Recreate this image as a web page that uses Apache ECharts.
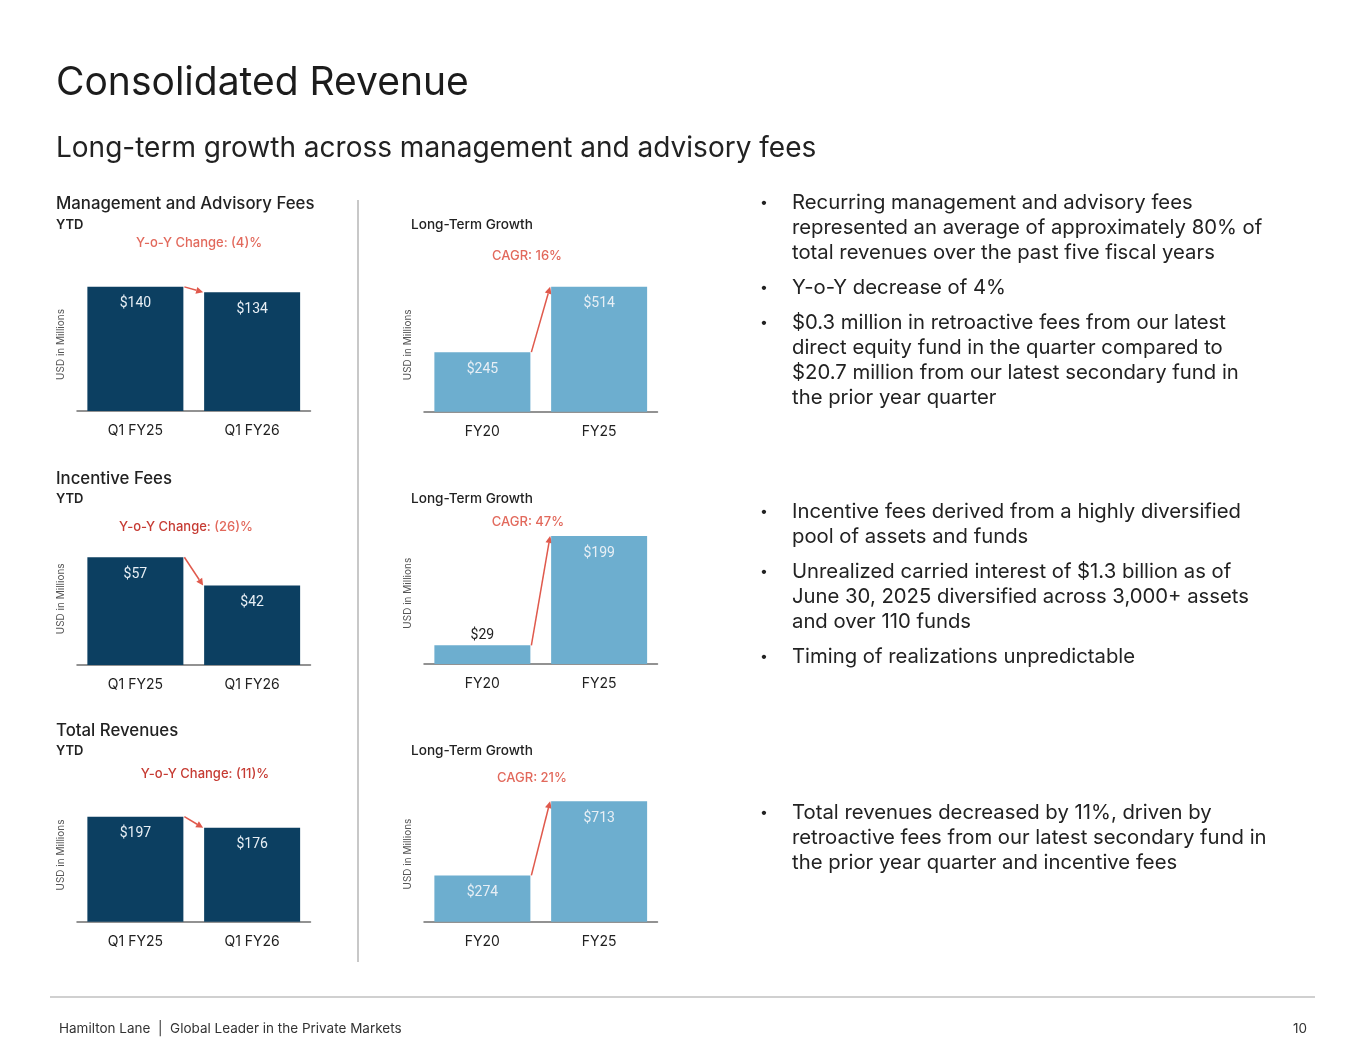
<!DOCTYPE html>
<html>
<head>
<meta charset="utf-8">
<script src="https://cdn.jsdelivr.net/npm/echarts@6/dist/echarts.min.js"></script>
<style>
  html,body{margin:0;padding:0;background:#fff;}
  #wrap{position:relative;width:1365px;height:1055px;overflow:hidden;font-family:Inter,Roboto,"Noto Sans",sans-serif;color:#222;}
  #chart{position:absolute;left:0;top:0;width:1365px;height:1055px;}
  .t{position:absolute;white-space:nowrap;}
  .c{transform:translateX(-50%);}
  .bul{position:absolute;left:760px;font-size:20.3px;line-height:25px;color:#222;}
  .bul .p{position:relative;padding-left:32px;white-space:nowrap;}
  .bul .p:before{content:"\2022";position:absolute;left:0;top:0;font-size:14px;}
  .red{color:#E2695C;}
  .dred{color:#C63B33;}
  .h{font-size:16.8px;line-height:20px;font-weight:500;}
  .lt{font-size:13.6px;line-height:16px;font-weight:500;}
</style>
</head>
<body>
<div id="wrap">
  <div id="chart"></div>

  <div class="t" style="left:56px;top:57px;font-size:39px;line-height:48px;color:#1c1c1c;">Consolidated Revenue</div>
  <div class="t" style="left:56px;top:129px;font-size:28px;line-height:36px;color:#222;">Long-term growth across management and advisory fees</div>

  <div class="t h" style="left:56px;top:193px;">Management and Advisory Fees</div>
  <div class="t" style="left:56px;top:216px;font-size:13px;line-height:16px;font-weight:600;">YTD</div>
  <div class="t c red" style="left:199px;top:234px;font-size:13px;line-height:16px;font-weight:500;">Y-o-Y Change: (4)%</div>
  <div class="t lt" style="left:411px;top:216px;">Long-Term Growth</div>
  <div class="t c red" style="left:527px;top:247px;font-size:13px;line-height:16px;font-weight:500;">CAGR: 16%</div>

  <div class="t h" style="left:56px;top:468px;">Incentive Fees</div>
  <div class="t" style="left:56px;top:490px;font-size:13px;line-height:16px;font-weight:600;">YTD</div>
  <div class="t c" style="left:186px;top:518px;font-size:13px;line-height:16px;font-weight:500;"><span class="dred">Y-o-Y Change:</span> <span class="red">(26)%</span></div>
  <div class="t lt" style="left:411px;top:490px;">Long-Term Growth</div>
  <div class="t c red" style="left:528px;top:513px;font-size:13px;line-height:16px;font-weight:500;">CAGR: 47%</div>

  <div class="t h" style="left:56px;top:720px;">Total Revenues</div>
  <div class="t" style="left:56px;top:742px;font-size:13px;line-height:16px;font-weight:600;">YTD</div>
  <div class="t c dred" style="left:205px;top:765px;font-size:13px;line-height:16px;font-weight:500;">Y-o-Y Change: (11)%</div>
  <div class="t lt" style="left:411px;top:742px;">Long-Term Growth</div>
  <div class="t c red" style="left:532px;top:769px;font-size:13px;line-height:16px;font-weight:500;">CAGR: 21%</div>

  <div style="position:absolute;left:357px;top:200px;width:2px;height:762px;background:#c8c8c8;"></div>

  <div class="bul" style="top:189px;">
    <div class="p">Recurring management and advisory fees<br>represented an average of approximately 80% of<br>total revenues over the past five fiscal years</div>
    <div class="p" style="margin-top:10px;">Y-o-Y decrease of 4%</div>
    <div class="p" style="margin-top:10px;">$0.3 million in retroactive fees from our latest<br>direct equity fund in the quarter compared to<br>$20.7 million from our latest secondary fund in<br>the prior year quarter</div>
  </div>
  <div class="bul" style="top:498px;">
    <div class="p">Incentive fees derived from a highly diversified<br>pool of assets and funds</div>
    <div class="p" style="margin-top:10px;">Unrealized carried interest of $1.3 billion as of<br>June 30, 2025 diversified across 3,000+ assets<br>and over 110 funds</div>
    <div class="p" style="margin-top:10px;">Timing of realizations unpredictable</div>
  </div>
  <div class="bul" style="top:799px;">
    <div class="p">Total revenues decreased by 11%, driven by<br>retroactive fees from our latest secondary fund in<br>the prior year quarter and incentive fees</div>
  </div>

  <div style="position:absolute;left:50px;top:996px;width:1265px;height:2px;background:#d0d0d0;"></div>
  <div class="t" style="left:59px;top:1020px;font-size:13.5px;line-height:16px;color:#333;">Hamilton Lane &nbsp;|&nbsp; Global Leader in the Private Markets</div>
  <div class="t" style="right:58px;top:1020px;font-size:13.5px;line-height:16px;color:#333;">10</div>
</div>

<script>
// ---- data ----
const ytdCategories = ['Q1 FY25', 'Q1 FY26'];
const longTermCategories = ['FY20', 'FY25'];
const mgmtYtd = [140, 134];
const mgmtLongTerm = [245, 514];
const incentiveYtd = [57, 42];
const incentiveLongTerm = [29, 199];
const totalYtd = [197, 176];
const totalLongTerm = [274, 713];
const axisMax = [150, 550, 70, 220, 250, 800];

// ---- layout / style ----
const NAVY = '#0C3F61';
const LIGHT = '#6DAECF';
const ARROW = '#E0594C';
const BAR_W = 96;
const FONT = 'Roboto, "Noto Sans", sans-serif';
const FONT2 = 'Inter, Roboto, sans-serif';

const panels = [
  { cats: ytdCategories, vals: mgmtYtd, color: NAVY, left: 77, top: 278, bottom: 411 },
  { cats: longTermCategories, vals: mgmtLongTerm, color: LIGHT, left: 424, top: 278, bottom: 411.7 },
  { cats: ytdCategories, vals: incentiveYtd, color: NAVY, left: 77, top: 532.7, bottom: 665 },
  { cats: longTermCategories, vals: incentiveLongTerm, color: LIGHT, left: 424, top: 522.5, bottom: 664 },
  { cats: ytdCategories, vals: totalYtd, color: NAVY, left: 77, top: 788.4, bottom: 921.7 },
  { cats: longTermCategories, vals: totalLongTerm, color: LIGHT, left: 424, top: 786.5, bottom: 921.7 }
];

const grid = [], xAxis = [], yAxis = [], series = [];
panels.forEach((p, i) => {
  grid.push({ left: p.left, width: 233.5, top: p.top, height: p.bottom - p.top });
  xAxis.push({
    type: 'category', gridIndex: i, data: p.cats,
    axisLine: { lineStyle: { color: '#6f6f6f', width: 1.5 } },
    axisTick: { show: false },
    axisLabel: { fontSize: 14, color: '#222', margin: 13, fontFamily: FONT2 }
  });
  yAxis.push({
    type: 'value', gridIndex: i, min: 0, max: axisMax[i],
    axisLine: { show: false }, axisTick: { show: false },
    axisLabel: { show: false }, splitLine: { show: false },
    name: 'USD in Millions', nameLocation: 'middle', nameGap: 11,
    nameTextStyle: { fontSize: 10, color: '#555', fontFamily: FONT2 }
  });
  series.push({
    type: 'bar', xAxisIndex: i, yAxisIndex: i, barWidth: BAR_W,
    itemStyle: { color: p.color },
    data: p.vals.map(v => {
      const small = v / axisMax[i] < 0.2;
      return {
        value: v,
        label: small
          ? { show: true, position: 'top', distance: 3, color: '#222' }
          : { show: true, position: 'insideTop', distance: 10, color: '#E8EFF5' }
      };
    }),
    label: { show: true, fontSize: 14, fontFamily: FONT, formatter: d => '$' + d.value }
  });
  series.push({
    type: 'custom', xAxisIndex: i, yAxisIndex: i, silent: true, clip: false,
    data: [[0, p.vals[0], p.vals[1]]],
    encode: { x: 0, y: [1, 2] },
    renderItem: (params, api) => {
      const a = api.coord([0, api.value(1)]);
      const b = api.coord([1, api.value(2)]);
      const x0 = a[0] + BAR_W / 2 + 1, y0 = a[1];
      const x1 = b[0] - BAR_W / 2 - 1, y1 = b[1];
      const dx = x1 - x0, dy = y1 - y0, len = Math.hypot(dx, dy);
      const ux = dx / len, uy = dy / len, nx = -uy, ny = ux;
      const hl = 7, hw = 3.5;
      const bx = x1 - ux * hl, by = y1 - uy * hl;
      return {
        type: 'group',
        children: [
          { type: 'line', shape: { x1: x0, y1: y0, x2: bx, y2: by }, style: { stroke: ARROW, lineWidth: 1.5 } },
          { type: 'polygon', shape: { points: [[x1, y1], [bx + nx * hw, by + ny * hw], [bx - nx * hw, by - ny * hw]] }, style: { fill: ARROW } }
        ]
      };
    }
  });
});

const chart = echarts.init(document.getElementById('chart'));
chart.setOption({
  animation: false,
  textStyle: { fontFamily: FONT },
  grid, xAxis, yAxis, series
});
</script>
</body>
</html>
